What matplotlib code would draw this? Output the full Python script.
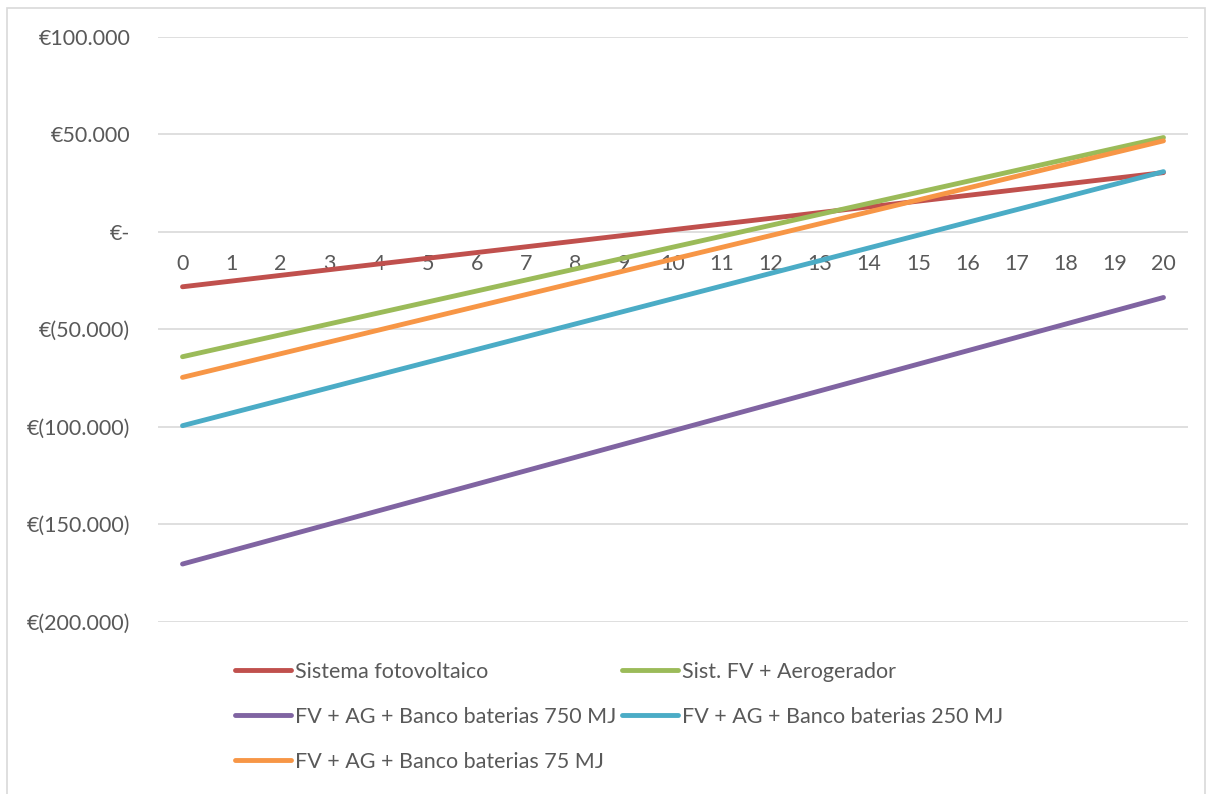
import matplotlib.pyplot as plt
from matplotlib.patches import Rectangle
from matplotlib.ticker import FuncFormatter

plt.rcParams['font.family'] = ['Lato', 'DejaVu Sans']

# Years
years = list(range(0, 21))

# Cumulative cash flow per system (EUR)
sistema_fv = [-28200, -25270, -22340, -19410, -16480, -13550, -10620, -7690, -4760, -1830,
              1100, 4030, 6960, 9890, 12820, 15750, 18680, 21610, 24540, 27470, 30400]
fv_ag = [-64100, -58475, -52850, -47225, -41600, -35975, -30350, -24725, -19100, -13475,
         -7850, -2225, 3400, 9025, 14650, 20275, 25900, 31525, 37150, 42775, 48400]
bat_750 = [-170500, -163660, -156820, -149980, -143140, -136300, -129460, -122620, -115780, -108940,
           -102100, -95260, -88420, -81580, -74740, -67900, -61060, -54220, -47380, -40540, -33700]
bat_250 = [-99500, -92980, -86460, -79940, -73420, -66900, -60380, -53860, -47340, -40820,
           -34300, -27780, -21260, -14740, -8220, -1700, 4820, 11340, 17860, 24380, 30900]
bat_75 = [-74700, -68630, -62560, -56490, -50420, -44350, -38280, -32210, -26140, -20070,
          -14000, -7930, -1860, 4210, 10280, 16350, 22420, 28490, 34560, 40630, 46700]

labels = ["Sistema fotovoltaico", "Sist. FV + Aerogerador", "FV + AG + Banco baterias 750 MJ",
          "FV + AG + Banco baterias 250 MJ", "FV + AG + Banco baterias 75 MJ"]
colors = ["#C0504D", "#9BBB59", "#8064A2", "#4BACC6", "#F79646"]
series = [sistema_fv, fv_ag, bat_750, bat_250, bat_75]

text_color = "#595959"
fs = 15.5

fig = plt.figure(figsize=(12.13, 7.94), dpi=100)
ax = fig.add_axes([158 / 1213, 1 - 621.5 / 794, 1030 / 1213, (621.5 - 37) / 794])

lines = []
for vals, lab, col in zip(series, labels, colors):
    ln, = ax.plot(years, vals, color=col, lw=3.5, solid_capstyle='round', label=lab, zorder=3)
    lines.append(ln)

ax.set_xlim(-0.5, 20.5)
ax.set_ylim(-200000, 100000)
ax.set_yticks(range(-200000, 100001, 50000))
ax.set_xticks(years)
ax.grid(axis='y', color='#d9d9d9', lw=1.2)
ax.set_axisbelow(True)


def euro(v, pos):
    if v == 0:
        return "€-"
    s = f"{abs(int(v)):,}".replace(",", ".")
    return f"€{s}" if v > 0 else f"€({s})"


ax.yaxis.set_major_formatter(FuncFormatter(euro))
for side in ['top', 'right', 'left']:
    ax.spines[side].set_visible(False)
ax.spines['bottom'].set_position(('data', 0))
ax.spines['bottom'].set_visible(False)
ax.tick_params(axis='x', length=0, pad=16, labelsize=fs, labelcolor=text_color)
ax.tick_params(axis='y', length=0, pad=20, labelsize=fs, labelcolor=text_color)

# legend: column-first order so rows read red/green, purple/cyan, orange
order = [0, 2, 4, 1, 3]
leg = fig.legend([lines[i] for i in order], [labels[i] for i in order],
                 ncol=2, loc='upper left', bbox_to_anchor=(235 / 1213, 1 - 662 / 794),
                 frameon=False, fontsize=fs, handlelength=2.6, handletextpad=0.2,
                 columnspacing=0.25, labelspacing=1.15, borderpad=0, borderaxespad=0)
for t in leg.get_texts():
    t.set_color(text_color)

# chart border
fig.patches.append(Rectangle((7 / 1213, -0.01), 1198 / 1213, 1 - 8 / 794 + 0.01,
                             transform=fig.transFigure, fill=False,
                             edgecolor='#d9d9d9', lw=1.2))

fig.savefig("out.png", dpi=100)
